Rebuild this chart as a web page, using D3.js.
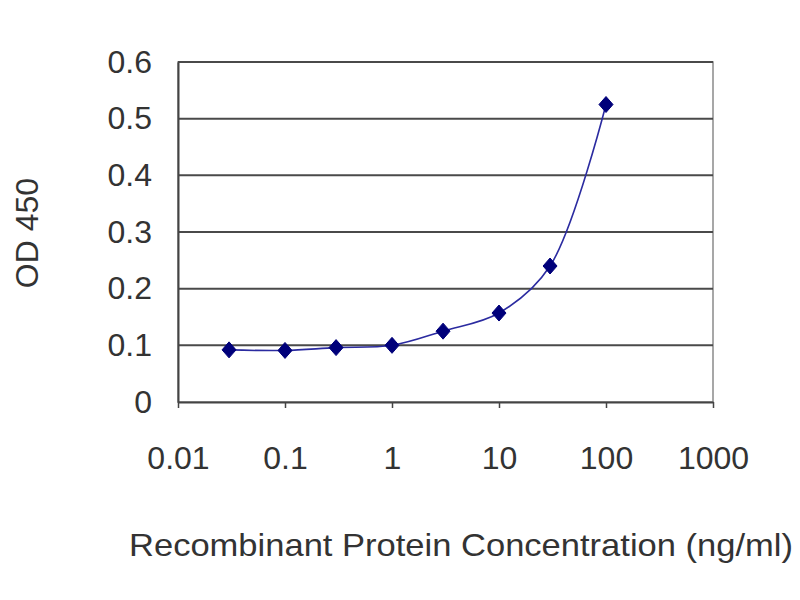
<!DOCTYPE html>
<html>
<head>
<meta charset="utf-8">
<script src="https://cdn.jsdelivr.net/npm/d3@7"></script>
<style>
  body { margin: 0; background: #fff; }
  text { font-family: "Liberation Sans", Arial, sans-serif; fill: #333; }
</style>
</head>
<body>
<svg id="chart"></svg>
<script>
// concentrations (ng/ml) and OD 450 readings
const concentrations = [0.03, 0.1, 0.3, 1, 3, 10, 30, 100];
const odValues = [0.092, 0.091, 0.096, 0.100, 0.125, 0.157, 0.240, 0.525];
const xTicks = [0.01, 0.1, 1, 10, 100, 1000];
const yTicks = [0, 0.1, 0.2, 0.3, 0.4, 0.5, 0.6];

const width = 800, height = 600;
const margin = { top: 62, right: 87, bottom: 198, left: 178 };
const innerW = width - margin.left - margin.right;
const innerH = height - margin.top - margin.bottom;

const svg = d3.select("#chart")
    .attr("width", width)
    .attr("height", height);

const g = svg.append("g")
    .attr("transform", `translate(${margin.left},${margin.top})`);

const x = d3.scaleLog().domain([0.01, 1000]).range([0, innerW]);
const y = d3.scaleLinear().domain([0, 0.6]).range([innerH, 0]);

// frame (top + right)
g.append("rect")
    .attr("width", innerW)
    .attr("height", innerH)
    .attr("fill", "none")
    .attr("stroke", "#8a8a8a")
    .attr("stroke-width", 1.5);

// horizontal gridlines
g.selectAll(".grid")
    .data(yTicks.filter(d => d > 0))
    .enter()
    .append("line")
    .attr("class", "grid")
    .attr("x1", 0)
    .attr("x2", innerW)
    .attr("y1", d => y(d))
    .attr("y2", d => y(d))
    .attr("stroke", "#4a4a4a")
    .attr("stroke-width", 2);

const xAxis = g.append("g")
    .attr("transform", `translate(0,${innerH})`)
    .call(d3.axisBottom(x).tickValues(xTicks).tickFormat(d => String(d)).tickSize(6).tickSizeOuter(0).tickPadding(38));

const yAxis = g.append("g")
    .call(d3.axisLeft(y).tickValues(yTicks).tickFormat(d => String(d)).tickSize(0).tickPadding(26));

[xAxis, yAxis].forEach(ax => {
    ax.select(".domain").attr("stroke", "#444").attr("stroke-width", 2);
    ax.selectAll(".tick line").attr("stroke", "#444").attr("stroke-width", 1.5);
    ax.selectAll("text")
        .attr("fill", "#444")
        .style("font-size", "32px")
        .style("font-family", "'Liberation Sans', Arial, sans-serif");
});

// smoothed line
const points = concentrations.map((c, i) => ({ c, od: odValues[i] }));
const line = d3.line()
    .x(d => x(d.c))
    .y(d => y(d.od))
    .curve(d3.curveCatmullRom.alpha(0.5));

g.append("path")
    .datum(points)
    .attr("fill", "none")
    .attr("stroke", "#2b2ba0")
    .attr("stroke-width", 1.6)
    .attr("d", line);

// diamond markers
g.selectAll(".marker")
    .data(points)
    .enter()
    .append("path")
    .attr("class", "marker")
    .attr("d", "M0,-8L7,0L0,8L-7,0Z")
    .attr("transform", d => `translate(${x(d.c)},${y(d.od)})`)
    .attr("fill", "#00007a")
    .attr("stroke", "#00007a")
    .attr("stroke-width", 1);

// axis titles
svg.append("text")
    .attr("x", 461)
    .attr("y", 556)
    .attr("text-anchor", "middle")
    .attr("textLength", 664)
    .attr("lengthAdjust", "spacingAndGlyphs")
    .style("font-size", "32px")
    .attr("fill", "#444")
    .text("Recombinant Protein Concentration (ng/ml)");

svg.append("text")
    .attr("transform", "translate(38,233) rotate(-90)")
    .attr("text-anchor", "middle")
    .style("font-size", "32px")
    .attr("fill", "#444")
    .text("OD 450");
</script>
</body>
</html>
